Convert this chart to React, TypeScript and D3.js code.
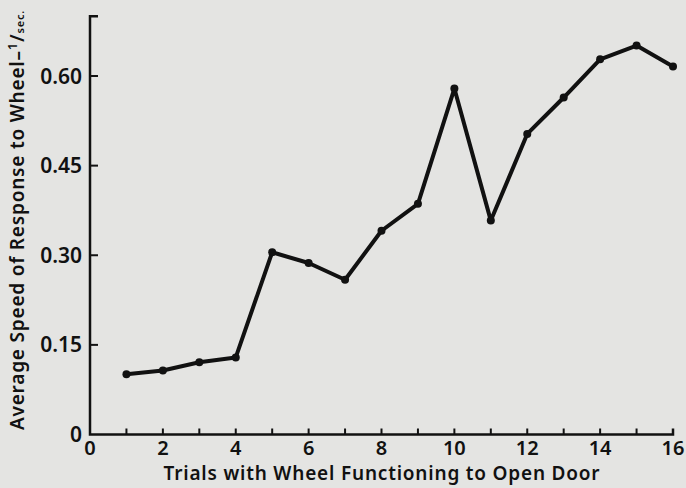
import React, { useRef, useEffect } from 'react'
import * as d3 from 'd3'

const trials = [1, 2, 3, 4, 5, 6, 7, 8, 9, 10, 11, 12, 13, 14, 15, 16]
const speeds = [0.101, 0.107, 0.121, 0.129, 0.305, 0.287, 0.259, 0.341, 0.386, 0.579, 0.358, 0.503, 0.564, 0.628, 0.651, 0.616]
const xTicks = [0, 2, 4, 6, 8, 10, 12, 14, 16]
const xMinorTicks = [1, 3, 5, 7, 9, 11, 13, 15]
const yTicks = [0, 0.15, 0.3, 0.45, 0.6]
const yTickLabels = ['0', '0.15', '0.30', '0.45', '0.60']

const W = 686
const H = 488
const FONT = '"Noto Sans", "DejaVu Sans", sans-serif'

export default function App() {
  const svgRef = useRef<SVGSVGElement | null>(null)

  useEffect(() => {
    if (!svgRef.current) return
    const svg = d3.select(svgRef.current)
    svg.selectAll('*').remove()

    svg.append('rect').attr('width', W).attr('height', H).attr('fill', '#e4e4e2')

    const x = d3.scaleLinear().domain([0, 16]).range([90, 673])
    const y = d3.scaleLinear().domain([0, 0.6]).range([434.5, 76])
    const yTop = y(0.7)

    const ink = '#111'

    // axes
    svg.append('path')
      .attr('d', `M${x(0) + 8},${yTop}H${x(0)}V${y(0)}H${x(16)}V${y(0) - 6}`)
      .attr('fill', 'none').attr('stroke', ink).attr('stroke-width', 2.5)

    yTicks.slice(1).forEach(t => {
      svg.append('line')
        .attr('x1', x(0)).attr('x2', x(0) + 8)
        .attr('y1', y(t)).attr('y2', y(t))
        .attr('stroke', ink).attr('stroke-width', 2)
    })
    ;[...xTicks.slice(1, -1), ...xMinorTicks].forEach(t => {
      svg.append('line')
        .attr('x1', x(t)).attr('x2', x(t))
        .attr('y1', y(0)).attr('y2', y(0) - 6)
        .attr('stroke', ink).attr('stroke-width', 2)
    })

    yTicks.forEach((t, i) => {
      svg.append('text')
        .attr('x', x(0) - 8).attr('y', y(t) + 7.5)
        .attr('text-anchor', 'end')
        .attr('font-family', FONT).attr('font-size', 21).attr('font-weight', 600)
        .attr('fill', ink)
        .text(yTickLabels[i])
    })
    xTicks.forEach(t => {
      svg.append('text')
        .attr('x', x(t)).attr('y', y(0) + 20)
        .attr('text-anchor', 'middle')
        .attr('font-family', FONT).attr('font-size', 20).attr('font-weight', 600)
        .attr('fill', ink)
        .text(t)
    })

    // axis titles
    svg.append('text')
      .attr('x', 382).attr('y', 480)
      .attr('text-anchor', 'middle')
      .attr('font-family', FONT).attr('font-size', 19).attr('font-weight', 600)
      .attr('letter-spacing', 0.8)
      .attr('fill', ink)
      .text('Trials with Wheel Functioning to Open Door')

    const yl = svg.append('text')
      .attr('transform', `translate(24,${220}) rotate(-90)`)
      .attr('text-anchor', 'middle')
      .attr('font-family', FONT).attr('font-size', 19).attr('font-weight', 600)
      .attr('letter-spacing', 0.8)
      .attr('fill', ink)
    yl.append('tspan').text('Average Speed of Response to Wheel\u2013')
    yl.append('tspan').attr('font-size', 13).attr('dy', -7).text('1')
    yl.append('tspan').attr('font-size', 19).attr('dy', 7).text('/')
    yl.append('tspan').attr('font-size', 11).text('sec.')

    // line + points
    const pts = trials.map((t, i) => [t, speeds[i]] as [number, number])
    const line = d3.line<[number, number]>().x(d => x(d[0])).y(d => y(d[1]))
    svg.append('path')
      .attr('d', line(pts))
      .attr('fill', 'none').attr('stroke', ink).attr('stroke-width', 4)
      .attr('stroke-linejoin', 'round')

    svg.selectAll('circle.pt').data(pts).enter().append('circle')
      .attr('class', 'pt')
      .attr('cx', d => x(d[0])).attr('cy', d => y(d[1]))
      .attr('r', 4).attr('fill', ink)
  }, [])

  return (
    <svg ref={svgRef} width={W} height={H} style={{ position: 'absolute', left: 0, top: 0 }} />
  )
}
